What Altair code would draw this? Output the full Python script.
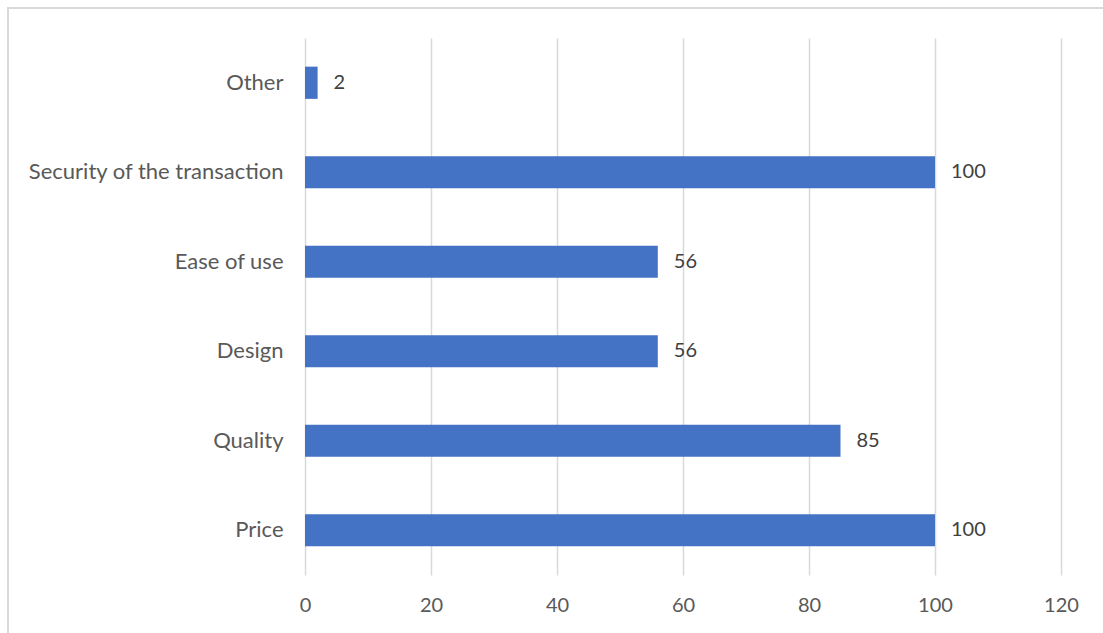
import altair as alt
import pandas as pd

categories = ["Other", "Security of the transaction", "Ease of use", "Design", "Quality", "Price"]
values = [2, 100, 56, 56, 85, 100]
x_ticks = [0, 20, 40, 60, 80, 100, 120]

df = pd.DataFrame({"category": categories, "value": values})

W, H = 756, 537
LEFT, TOP = 305, 38
RIGHT, BOTTOM = 1103 - LEFT - W, 633 - TOP - H

font = "Lato"
FS = 20
CAT_FS = 22

border = alt.Chart(pd.DataFrame({"a": [0]})).mark_rect(
    fill=None, stroke="#d9d9d9", strokeWidth=2, clip=False
).encode(
    x=alt.value(8 - LEFT), x2=alt.value(1103 - LEFT + 20),
    y=alt.value(8 - TOP), y2=alt.value(633 - TOP + 20),
)

y_enc = alt.Y(
    "category:N", sort=categories, title=None,
    scale=alt.Scale(paddingInner=0.64, paddingOuter=0.32),
    axis=alt.Axis(domain=False, ticks=False, labelFont=font, labelFontSize=CAT_FS,
                  labelColor="#595959", labelPadding=22, grid=False, labelLimit=400),
)
x_enc = alt.X(
    "value:Q", title=None,
    scale=alt.Scale(domain=[0, 120], nice=False),
    axis=alt.Axis(values=x_ticks, domain=False, ticks=False, labelFont=font,
                  labelFontSize=FS, labelColor="#595959", labelPadding=20,
                  labelFlush=False, labelOverlap=False,
                  grid=True, gridColor="#d9d9d9", gridWidth=1.5),
)

bars = alt.Chart(df).mark_bar(color="#4472C4").encode(x=x_enc, y=y_enc)
labels = alt.Chart(df).mark_text(
    align="left", baseline="middle", dx=16, font=font, fontSize=FS, color="#404040"
).encode(x="value:Q", y=alt.Y("category:N", sort=categories), text="value:Q")

chart = alt.layer(border, bars, labels).properties(
    width=W, height=H,
    background="white",
    autosize=alt.AutoSizeParams(type="none"),
    padding={"left": LEFT, "top": TOP, "right": RIGHT, "bottom": BOTTOM},
).configure_view(stroke=None)

chart.save("out.html", embed_options={"renderer": "svg", "actions": False})
